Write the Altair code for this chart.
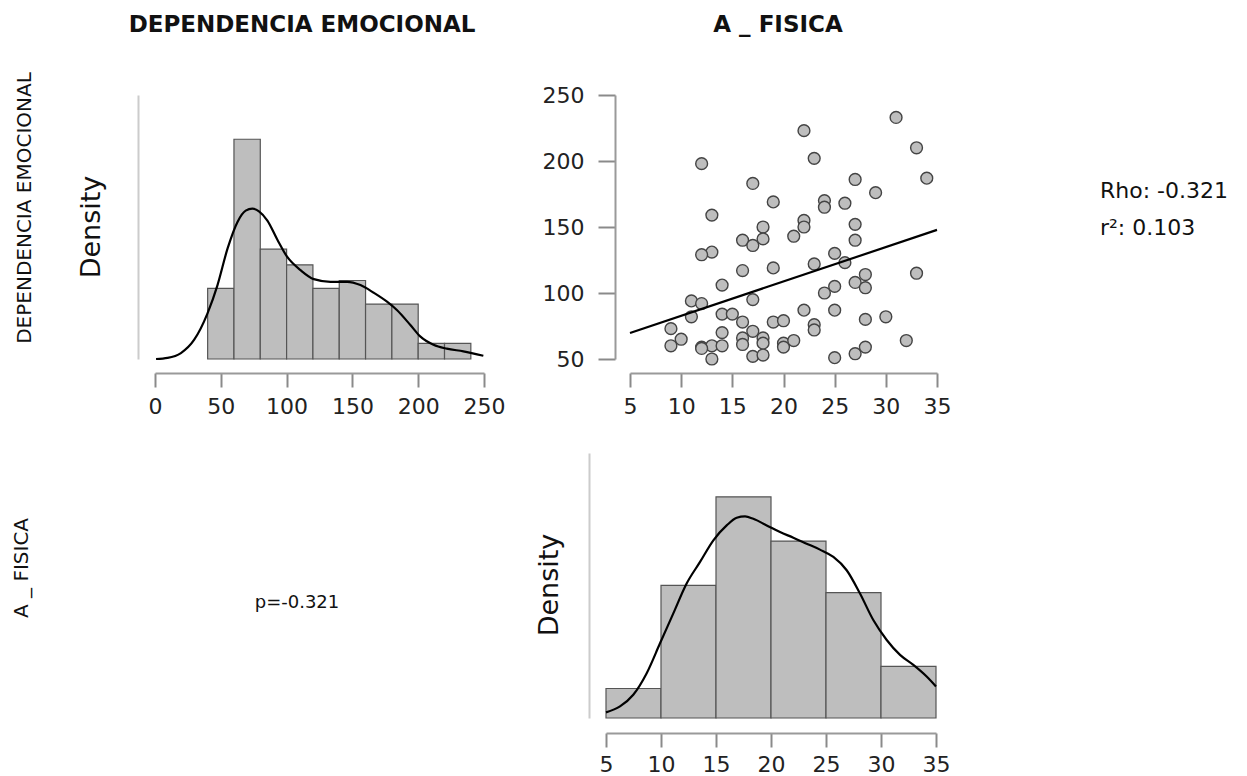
import altair as alt
import pandas as pd

# ---------------- data ----------------
# Histogram of DEPENDENCIA EMOCIONAL (bin width 20, n = 100)
dep_bin_start = [40, 60, 80, 100, 120, 140, 160, 180, 200, 220]
dep_bin_end = [60, 80, 100, 120, 140, 160, 180, 200, 220, 240]
dep_counts = [9, 28, 14, 12, 9, 10, 7, 7, 2, 2]
n_obs = 100

# Kernel density curve of DEPENDENCIA EMOCIONAL
dep_kde_x = [0.8, 9.6, 19.7, 29.8, 39.9, 47.5, 55.1, 62.6, 68.9, 74.0, 79.0, 85.4,
             93.0, 100.5, 110.6, 120.7, 133.3, 146.0, 156.1, 166.2, 176.3, 183.8,
             193.9, 201.5, 211.6, 221.7, 234.3, 249.5]
dep_kde_y = [0.0, 0.00007, 0.00038, 0.00123, 0.00291, 0.00471, 0.00703, 0.00872,
             0.00945, 0.00958, 0.00941, 0.00882, 0.0076, 0.0065, 0.00566, 0.00509,
             0.00492, 0.00492, 0.00471, 0.00422, 0.00365, 0.00312, 0.00218, 0.00144,
             0.00091, 0.00066, 0.00049, 0.00021]

# Histogram of A_FISICA (bin width 5)
fis_bin_start = [5, 10, 15, 20, 25, 30]
fis_bin_end = [10, 15, 20, 25, 30, 35]
fis_counts = [4, 18, 30, 24, 17, 7]

# Kernel density curve of A_FISICA
fis_kde_x = [5.0, 6.27, 7.48, 8.70, 9.91, 11.12, 12.33, 13.55, 14.76, 15.97, 16.88,
             17.64, 18.39, 19.61, 20.82, 22.03, 23.24, 24.45, 25.67, 26.88, 28.09,
             29.30, 30.52, 31.73, 32.94, 34.15, 35.0]
fis_kde_y = [0.00153, 0.00315, 0.00631, 0.01216, 0.02027, 0.02838, 0.03649, 0.04234,
             0.0482, 0.05225, 0.05432, 0.05468, 0.05405, 0.05225, 0.05045, 0.04892,
             0.0473, 0.04568, 0.04369, 0.04009, 0.03378, 0.02658, 0.02117, 0.01712,
             0.01441, 0.01126, 0.00856]

# Scatter: A_FISICA (x) vs DEPENDENCIA EMOCIONAL (y)
sc_x = [31, 22, 33, 23, 12, 34, 27, 17, 29, 19, 24, 24, 26, 13, 22, 22, 18, 27, 21, 18,
        16, 17, 27, 13, 12, 25, 26, 23, 19, 16, 33, 28, 27, 28, 25, 24, 14, 11, 12, 17,
        11, 22, 25, 14, 15, 16, 19, 20, 30, 28, 23, 23, 9, 14, 17, 10, 9, 12, 13, 14,
        16, 16, 18, 18, 20, 20, 21, 32, 13, 17, 18, 25, 27, 28, 12]
sc_y = [233, 223, 210, 202, 198, 187, 186, 183, 176, 169, 170, 165, 168, 159, 155, 150,
        150, 152, 143, 141, 140, 136, 140, 131, 129, 130, 123, 122, 119, 117, 115, 114,
        108, 104, 105, 100, 106, 94, 92, 95, 82, 87, 87, 84, 84, 78, 78, 79, 82, 80,
        76, 72, 73, 70, 71, 65, 60, 59, 60, 60, 66, 61, 66, 62, 62, 59, 64, 64, 50, 52,
        53, 51, 54, 59, 58]

col_titles = ["DEPENDENCIA EMOCIONAL", "A _ FISICA"]
row_titles = ["DEPENDENCIA EMOCIONAL", "A _ FISICA"]
density_label = "Density"
corr_text = "p=-0.321"
side_texts = ["Rho: -0.321", "r\u00b2: 0.103"]

dep_ticks = [0, 50, 100, 150, 200, 250]
fis_ticks = [5, 10, 15, 20, 25, 30, 35]
dep_y_ticks = [50, 100, 150, 200, 250]

# ---------------- tables ----------------
dep_hist = pd.DataFrame({"start": dep_bin_start, "end": dep_bin_end,
                         "density": [c / (n_obs * 20) for c in dep_counts]})
dep_kde = pd.DataFrame({"x": dep_kde_x, "d": dep_kde_y})
fis_hist = pd.DataFrame({"start": fis_bin_start, "end": fis_bin_end,
                         "density": [c / (n_obs * 5) for c in fis_counts]})
fis_kde = pd.DataFrame({"x": fis_kde_x, "d": fis_kde_y})
scatter = pd.DataFrame({"fis": sc_x, "dep": sc_y})

# ---------------- layout (pixel coordinates inside the view) ----------------
W, H = 1231, 768
FONT = "DejaVu Sans"
BAR_FILL = "#bebebe"
BAR_STROKE = "#555555"
TOP_AXIS_Y = 365
BOTTOM_AXIS_Y = 725


def sc(domain, rng):
    return alt.Scale(domain=domain, range=rng, nice=False, zero=False)


def x_axis(values, axis_y, pad=9):
    return alt.Axis(orient="bottom", values=values, offset=axis_y - H, grid=False,
                    domainColor="#9a9a9a", domainWidth=2, tickColor="#8a8a8a",
                    tickWidth=2, tickSize=14, labelFont=FONT, labelFontSize=22,
                    labelColor="#222222", labelPadding=pad, labelFlush=False,
                    labelOverlap=False)


def dens_axis(offset):
    return alt.Axis(orient="left", offset=offset, grid=False, ticks=False,
                    labels=False, domainColor="#cccccc", domainWidth=2)


# top-left panel: histogram of DEPENDENCIA EMOCIONAL
tl_x = sc([0, 250], [147, 476])
tl_y = sc([0, 0.01682], [351, 87])
tl_bars = alt.Chart(dep_hist).mark_rect(fill=BAR_FILL, stroke=BAR_STROKE, strokeWidth=1.2).encode(
    x=alt.X("start:Q", scale=tl_x, axis=x_axis(dep_ticks, TOP_AXIS_Y), title=None),
    x2="end:Q",
    y=alt.Y("density:Q", scale=tl_y, axis=dens_axis(-130), title=None),
    y2=alt.datum(0),
)
tl_kde = alt.Chart(dep_kde).mark_line(color="black", strokeWidth=2.2,
                                      interpolate="monotone").encode(
    x=alt.X("x:Q", scale=tl_x, axis=None),
    y=alt.Y("d:Q", scale=tl_y, axis=None),
)

# top-right panel: scatter
tr_x = sc([5, 35], [622, 929])
tr_y = sc([50, 250], [351, 87])
tr_points = alt.Chart(scatter).mark_circle(fill=BAR_FILL, stroke="#444444", strokeWidth=1.4,
                                            size=140, opacity=1).encode(
    x=alt.X("fis:Q", scale=tr_x, axis=x_axis(fis_ticks, TOP_AXIS_Y), title=None),
    y=alt.Y("dep:Q", scale=tr_y, title=None,
            axis=alt.Axis(orient="left", values=dep_y_ticks, offset=-607, grid=False,
                          domainColor="#9a9a9a", domainWidth=2, tickColor="#8a8a8a",
                          tickWidth=2, tickSize=17, labelFont=FONT, labelFontSize=22,
                          labelColor="#222222", labelPadding=14, labelOverlap=False)),
)
tr_line = alt.Chart(scatter).transform_regression("fis", "dep", extent=[5, 35]).mark_line(
    color="black", strokeWidth=2.2).encode(
    x=alt.X("fis:Q", scale=tr_x, axis=None),
    y=alt.Y("dep:Q", scale=tr_y, axis=None),
)

# bottom-right panel: histogram of A_FISICA
br_x = sc([5, 35], [598, 928])
br_y = sc([0, 0.0719], [710, 445])
br_bars = alt.Chart(fis_hist).mark_rect(fill=BAR_FILL, stroke=BAR_STROKE, strokeWidth=1.2).encode(
    x=alt.X("start:Q", scale=br_x, axis=x_axis(fis_ticks, BOTTOM_AXIS_Y, pad=7), title=None),
    x2="end:Q",
    y=alt.Y("density:Q", scale=br_y, axis=dens_axis(-581), title=None),
    y2=alt.datum(0),
)
br_kde = alt.Chart(fis_kde).mark_line(color="black", strokeWidth=2.2,
                                      interpolate="monotone").encode(
    x=alt.X("x:Q", scale=br_x, axis=None),
    y=alt.Y("d:Q", scale=br_y, axis=None),
)


def label(text, x, y, size, bold=False, angle=0, align="center", baseline="alphabetic"):
    kw = dict(font=FONT, fontSize=size, color="#111111", align=align, baseline=baseline)
    if bold:
        kw["fontWeight"] = "bold"
    if angle:
        kw["angle"] = angle
    return alt.Chart(pd.DataFrame({"t": [text]})).mark_text(**kw).encode(
        text="t:N", x=alt.value(x), y=alt.value(y))


texts = [
    label(col_titles[0], 294, 24, 23, bold=True),
    label(col_titles[1], 770, 24, 23, bold=True),
    label(row_titles[0], 17, 200, 20, angle=270, baseline="middle"),
    label(row_titles[1], 14, 560, 20, angle=270, baseline="middle"),
    label(density_label, 84, 219, 27, angle=270, baseline="middle"),
    label(density_label, 542, 577, 27, angle=270, baseline="middle"),
    label(corr_text, 289, 600, 18),
    label(side_texts[0], 1092, 190, 22, align="left"),
    label(side_texts[1], 1092, 227, 22, align="left"),
]

chart = alt.layer(tl_bars, tl_kde, tr_points, tr_line, br_bars, br_kde, *texts).resolve_scale(
    x="independent", y="independent").resolve_axis(x="independent", y="independent").properties(
    width=W, height=H, autosize=alt.AutoSizeParams(type="none"), padding=0,
    background="white").configure_view(stroke=None)

chart.save("out.html", embed_options={"renderer": "svg", "actions": False})
